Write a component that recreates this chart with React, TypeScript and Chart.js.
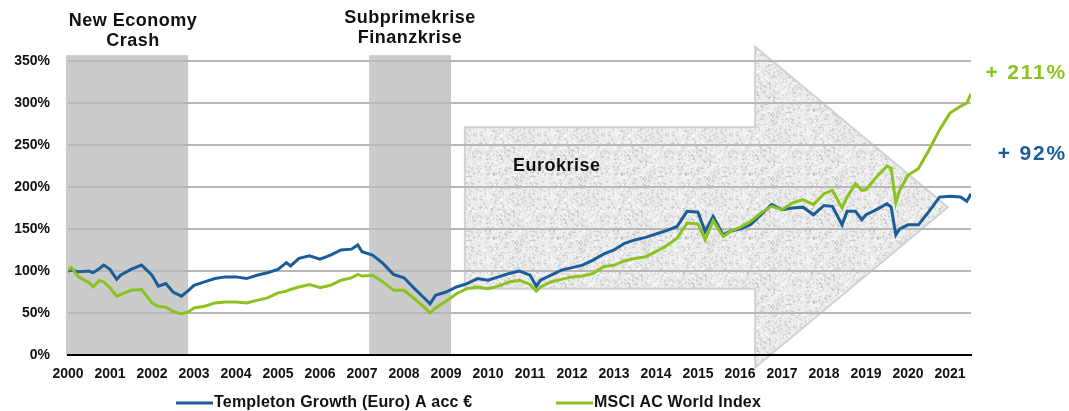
import React, { useEffect, useRef } from 'react';
import { Chart, registerables } from 'chart.js';

Chart.register(...registerables);

// Dates as decimal years
const dates = [
  2000.0, 2000.08, 2000.25, 2000.5, 2000.6, 2000.75, 2000.85, 2001.0, 2001.16, 2001.25,
  2001.5, 2001.75, 2002.0, 2002.15, 2002.33, 2002.5, 2002.7, 2002.85, 2003.0, 2003.25,
  2003.5, 2003.75, 2004.0, 2004.25, 2004.5, 2004.75, 2005.0, 2005.2, 2005.3, 2005.5,
  2005.75, 2006.0, 2006.25, 2006.5, 2006.75, 2006.9, 2007.0, 2007.25, 2007.5, 2007.75,
  2008.0, 2008.25, 2008.5, 2008.62, 2008.75, 2009.0, 2009.25, 2009.5, 2009.75, 2010.0,
  2010.25, 2010.5, 2010.75, 2011.0, 2011.15, 2011.25, 2011.5, 2011.75, 2012.0, 2012.25,
  2012.5, 2012.75, 2013.0, 2013.25, 2013.5, 2013.75, 2014.0, 2014.25, 2014.5, 2014.74,
  2015.0, 2015.17, 2015.36, 2015.6, 2015.8, 2016.0, 2016.25, 2016.5, 2016.75, 2017.0,
  2017.25, 2017.5, 2017.75, 2018.0, 2018.2, 2018.43, 2018.55, 2018.75, 2018.9, 2019.0,
  2019.25, 2019.5, 2019.6, 2019.71, 2019.8, 2020.0, 2020.25, 2020.5, 2020.75, 2021.0,
  2021.25, 2021.4, 2021.5,
];

// Templeton Growth (Euro) A acc € — indexed, %
const templeton = [
  100, 101, 99, 100, 98, 103, 107, 102, 90, 95,
  102, 107, 95, 82, 85, 75, 70, 76, 83, 87,
  91, 93, 93, 91, 95, 98, 102, 110, 106, 115,
  118, 114, 119, 125, 126, 131, 123, 119, 109, 96,
  92, 79, 67, 61, 71, 75, 81, 85, 91, 89,
  93, 97, 100, 95, 82, 89, 95, 101, 104, 107,
  113, 120, 125, 133, 137, 140, 144, 148, 153, 171,
  170, 147, 165, 143, 148, 150, 155, 167, 179, 173,
  175, 176, 167, 178, 177, 155, 171, 171, 161, 167,
  173, 180, 176, 143, 150, 155, 155, 171, 188, 189,
  188, 183, 192,
];

// MSCI AC World Index — indexed, %
const msci = [
  101, 104, 93, 86, 81, 89, 87, 80, 70, 72,
  77, 78, 62, 58, 57, 52, 49, 51, 56, 58,
  62, 63, 63, 62, 65, 68, 74, 76, 78, 81,
  84, 80, 83, 89, 92, 96, 94, 95, 87, 77,
  77, 67, 56, 50, 56, 64, 73, 79, 81, 79,
  82, 87, 89, 84, 76, 81, 87, 90, 93, 94,
  97, 105, 107, 112, 115, 117, 123, 130, 139, 157,
  156, 137, 160, 141, 148, 152, 159, 169, 177, 173,
  181, 185, 179, 192, 196, 175, 188, 204, 196, 197,
  212, 225, 222, 181, 196, 214, 222, 244, 268, 288,
  296, 300, 311,
];

const yearTicks = [
  2000, 2001, 2002, 2003, 2004, 2005, 2006, 2007, 2008, 2009, 2010,
  2011, 2012, 2013, 2014, 2015, 2016, 2017, 2018, 2019, 2020, 2021,
];
const percentTicks = [0, 50, 100, 150, 200, 250, 300, 350];

const seriesNames = ['Templeton Growth (Euro) A acc €', 'MSCI AC World Index'];
const seriesColors = ['#1b5d98', '#8cc21f'];

const crisisBands = [
  { from: 1999.95, to: 2002.86, top: 357, label: ['New Economy', 'Crash'] },
  { from: 2007.17, to: 2009.12, top: 357, label: ['Subprimekrise', 'Finanzkrise'] },
];
const euroLabel = 'Eurokrise';
const endLabels = ['+ 211%', '+ 92%'];

// Arrow outline in value space [year, percent]
const arrowShape = [
  [2009.45, 271], [2016.36, 271], [2016.36, 367], [2020.95, 176],
  [2016.36, -15], [2016.36, 79], [2009.45, 79],
];

const FONT = "'Liberation Sans', Arial, sans-serif";

function makeTexture(ctx: CanvasRenderingContext2D) {
  const c = document.createElement('canvas');
  c.width = 64;
  c.height = 64;
  const g = c.getContext('2d')!;
  g.fillStyle = '#eaeaea';
  g.fillRect(0, 0, 64, 64);
  let s = 12345;
  const next = () => {
    s = (s * 1103515245 + 12345) & 0x7fffffff;
    return s / 0x7fffffff;
  };
  for (let i = 0; i < 800; i++) {
    const x = next() * 64;
    const y = next() * 64;
    const v = next();
    g.fillStyle = v < 0.5 ? 'rgba(180,180,180,0.6)' : 'rgba(255,255,255,0.85)';
    g.fillRect(x, y, 1.4, 1.4);
  }
  return ctx.createPattern(c, 'repeat');
}

const decorPlugin = {
  id: 'decor',
  beforeDraw(chart: any) {
    const { ctx, scales } = chart;
    const xs = scales.x;
    const ys = scales.y;
    ctx.save();
    // crisis bands
    ctx.fillStyle = '#cbcbcb';
    crisisBands.forEach((b) => {
      const x0 = xs.getPixelForValue(b.from);
      const x1 = xs.getPixelForValue(b.to);
      const y0 = ys.getPixelForValue(b.top);
      ctx.fillRect(x0, y0, x1 - x0, ys.bottom - y0);
    });
    // arrow
    ctx.beginPath();
    arrowShape.forEach(([vx, vy], i) => {
      const px = xs.getPixelForValue(vx);
      const py = ys.getPixelForValue(vy);
      if (i === 0) ctx.moveTo(px, py);
      else ctx.lineTo(px, py);
    });
    ctx.closePath();
    ctx.fillStyle = makeTexture(ctx) || '#ebebeb';
    ctx.fill();
    ctx.strokeStyle = '#d2d2d2';
    ctx.lineWidth = 2;
    ctx.stroke();
    ctx.restore();
  },
  afterDraw(chart: any) {
    const { ctx, scales } = chart;
    const xs = scales.x;
    ctx.save();
    ctx.fillStyle = '#111';
    ctx.textAlign = 'center';
    ctx.textBaseline = 'middle';
    ctx.font = 'bold 18px ' + FONT;
    (ctx as any).letterSpacing = '0.5px';
    crisisBands.forEach((b, i) => {
      const cx = (xs.getPixelForValue(b.from) + xs.getPixelForValue(b.to)) / 2 + (i === 0 ? 6 : 0);
      const y0 = i === 0 ? 21 : 18;
      b.label.forEach((t, k) => ctx.fillText(t, cx, y0 + k * 20));
    });
    ctx.textAlign = 'left';
    ctx.fillText(euroLabel, 513, 166);

    ctx.font = 'bold 21px ' + FONT;
    (ctx as any).letterSpacing = '1.8px';
    ctx.textAlign = 'right';
    ctx.fillStyle = seriesColors[1];
    ctx.fillText(endLabels[0], 1067, 73);
    ctx.fillStyle = seriesColors[0];
    ctx.fillText(endLabels[1], 1067, 154);
    (ctx as any).letterSpacing = '0px';

    // legend
    const legendY = 403;
    const items = [
      { x: 176, color: seriesColors[0], text: seriesNames[0] },
      { x: 556, color: seriesColors[1], text: seriesNames[1] },
    ];
    ctx.font = 'bold 16px ' + FONT;
    (ctx as any).letterSpacing = '0.2px';
    ctx.textAlign = 'left';
    items.forEach((it) => {
      ctx.strokeStyle = it.color;
      ctx.lineWidth = 3;
      ctx.beginPath();
      ctx.moveTo(it.x, legendY);
      ctx.lineTo(it.x + 37, legendY);
      ctx.stroke();
      ctx.fillStyle = '#111';
      ctx.fillText(it.text, it.x + 38, legendY);
    });
    ctx.restore();
  },
};

export default function App() {
  const ref = useRef<HTMLCanvasElement | null>(null);
  useEffect(() => {
    if (!ref.current) return;
    const chart = new Chart(ref.current, {
      type: 'line',
      data: {
        datasets: [
          {
            label: seriesNames[0],
            data: dates.map((d, i) => ({ x: d, y: templeton[i] })),
            borderColor: seriesColors[0],
            borderWidth: 3,
            pointRadius: 0,
            tension: 0,
            order: 2,
          },
          {
            label: seriesNames[1],
            data: dates.map((d, i) => ({ x: d, y: msci[i] })),
            borderColor: seriesColors[1],
            borderWidth: 3,
            pointRadius: 0,
            tension: 0,
            order: 1,
          },
        ],
      },
      options: {
        responsive: false,
        animation: false,
        layout: { padding: { left: 0, top: 61, right: 98, bottom: 26 } },
        plugins: { legend: { display: false }, tooltip: { enabled: false } },
        scales: {
          x: {
            type: 'linear',
            min: 2000,
            max: 2021.5,
            afterFit: (s: any) => {
              s.height = 30;
            },
            afterBuildTicks: (s: any) => {
              s.ticks = yearTicks.map((v) => ({ value: v }));
            },
            grid: { display: false, drawTicks: false },
            border: { display: true, color: '#000', width: 2 },
            ticks: {
              autoSkip: false,
              maxRotation: 0,
              minRotation: 0,
              padding: 11,
              color: '#111',
              font: { family: FONT, size: 14, weight: 'bold' },
              callback: (v: any) => String(v),
            },
          },
          y: {
            min: 0,
            max: 350,
            afterFit: (s: any) => {
              s.width = 68;
            },
            afterBuildTicks: (s: any) => {
              s.ticks = percentTicks.map((v) => ({ value: v }));
            },
            grid: { color: '#b7b7b7', lineWidth: 2, drawTicks: false },
            border: { display: false },
            ticks: {
              padding: 18,
              color: '#111',
              font: { family: FONT, size: 14, weight: 'bold' },
              callback: (v: any) => v + '%',
            },
          },
        },
      },
      plugins: [decorPlugin],
    } as any);
    return () => chart.destroy();
  }, []);
  return (
    <canvas
      ref={ref}
      width={1069}
      height={411}
      style={{ position: 'absolute', left: 0, top: 0, width: 1069, height: 411, display: 'block' }}
    />
  );
}
